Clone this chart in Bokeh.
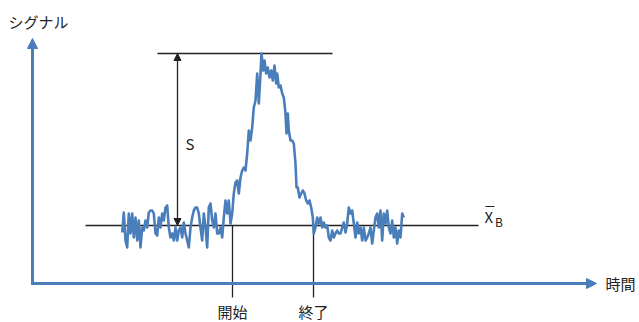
from bokeh.plotting import figure
from bokeh.models import Range1d, Arrow, NormalHead
from bokeh.embed import file_html
from bokeh.resources import INLINE
from bokeh.core.properties import value

# ---- data (time, signal) ----
time = [89.7, 91.3, 93.0, 94.7, 96.3, 98.0, 99.7, 101.3, 103.0, 104.7, 106.3, 108.0, 109.7, 111.3,
        113.0, 114.7, 116.3, 118.0, 119.7, 121.3, 123.0, 124.7, 126.3, 128.0, 129.7, 131.3, 133.0,
        134.7, 136.3, 138.0, 139.7, 141.3, 143.0, 144.7, 146.3, 148.0, 149.7, 151.3, 153.0, 154.7,
        156.3, 158.0, 159.7, 161.3, 163.0, 164.7, 166.3, 168.0, 169.7, 171.3, 173.0, 174.7, 176.3,
        178.0, 179.7, 181.3, 183.0, 184.7, 186.3, 188.0, 189.7, 191.3, 193.0, 194.7, 196.3, 198.0,
        199.7, 201.3, 203.0, 204.7, 206.3, 208.0, 209.7, 211.3, 213.0, 214.7, 216.3, 218.0, 219.7,
        221.3, 223.0, 224.7, 226.3, 228.0, 229.0, 230.7, 232.0, 233.7, 235.3, 237.0, 238.7, 240.3,
        242.0, 243.7, 244.7, 246.3, 248.0, 249.7, 251.3, 253.0, 254.0, 255.3, 256.3, 258.0, 259.7,
        261.3, 263.0, 264.0, 265.3, 267.0, 268.7, 270.3, 272.0, 273.7, 275.3, 277.0, 278.7, 280.3,
        281.3, 283.0, 284.7, 286.3, 288.0, 289.7, 291.3, 293.0, 294.7, 296.3, 298.0, 299.7, 301.3,
        303.0, 304.7, 306.3, 308.0, 309.7, 311.3, 313.0, 314.7, 316.3, 318.0, 319.7, 321.3, 323.0,
        324.7, 326.3, 328.0, 329.7, 331.3, 333.0, 334.7, 336.3, 338.0, 339.7, 341.3, 343.0, 344.7,
        346.3, 348.0, 349.7, 351.3, 353.0, 354.7, 356.3, 358.0, 359.7, 361.3, 363.0, 364.7, 366.3,
        368.0, 369.7, 371.3]
signal = [51, 71, 43, 36, 70, 50, 70, 46, 66, 43, 63, 36, 56, 53,
          63, 56, 71, 73, 73, 70, 50, 48, 66, 56, 70, 63, 76,
          78, 56, 46, 50, 43, 56, 43, 53, 56, 46, 61, 50, 43,
          36, 56, 66, 73, 76, 76, 70, 56, 43, 70, 56, 36, 76,
          80, 63, 56, 70, 50, 50, 56, 46, 66, 83, 70, 83, 60,
          70, 90, 101, 103, 90, 106, 113, 116, 113, 130, 153, 143, 156,
          176, 183, 210, 180, 210, 230, 213, 223, 210, 216, 206, 213, 203,
          218, 200, 210, 196, 198, 190, 186, 170, 150, 170, 153, 143, 143,
          140, 120, 96, 96, 86, 90, 93, 90, 83, 80, 83, 76, 66,
          50, 56, 66, 60, 66, 56, 61, 56, 58, 46, 43, 53, 46,
          50, 53, 50, 50, 56, 61, 51, 60, 76, 70, 73, 60, 46,
          61, 50, 56, 43, 56, 43, 46, 50, 56, 40, 53, 66, 70,
          56, 73, 43, 70, 60, 73, 56, 50, 63, 46, 56, 40, 53,
          46, 70, 66]

baseline_level = 58      # X̄_B
peak_level = 230         # peak height
start_time = 200         # 開始
end_time = 281           # 終了
axis_time_max = 564
axis_signal_max = 245

BLUE = "#4a7ebb"
DARK = "#222222"
FONT = value("Noto Sans CJK JP")

p = figure(width=639, height=322, x_range=Range1d(-32, 607), y_range=Range1d(-39, 283),
           x_axis_type=None, y_axis_type=None, toolbar_location=None,
           output_backend="svg", min_border=0)
p.outline_line_color = None
p.grid.visible = False
p.background_fill_color = "white"
p.border_fill_color = "white"

# axes with arrows
p.add_layout(Arrow(end=NormalHead(size=10, fill_color=BLUE, line_color=BLUE),
                   x_start=0, y_start=-1.5, x_end=0, y_end=axis_signal_max,
                   line_color=BLUE, line_width=3))
p.add_layout(Arrow(end=NormalHead(size=10, fill_color=BLUE, line_color=BLUE),
                   x_start=-1.5, y_start=0, x_end=axis_time_max, y_end=0,
                   line_color=BLUE, line_width=3))

# reference lines
p.line([53, 446], [baseline_level, baseline_level], line_color=DARK, line_width=1.3)
p.line([125, 300], [peak_level, peak_level], line_color=DARK, line_width=1.3)
p.line([start_time, start_time], [baseline_level, -14], line_color=DARK, line_width=1.3)
p.line([end_time, end_time], [baseline_level, -14], line_color=DARK, line_width=1.3)

# S double arrow
p.add_layout(Arrow(start=NormalHead(size=7, fill_color=DARK, line_color=DARK),
                   end=NormalHead(size=7, fill_color=DARK, line_color=DARK),
                   x_start=145, y_start=baseline_level, x_end=145, y_end=peak_level,
                   line_color=DARK, line_width=1.3))

# signal
p.line(time, signal, line_color=BLUE, line_width=2.6, line_join="round")

# texts
p.text(x=[-24], y=[262], text=["シグナル"], text_font=FONT, text_font_size="15px",
       text_color=DARK, text_baseline="middle", text_align="left")
p.text(x=[573], y=[0], text=["時間"], text_font=FONT, text_font_size="15px",
       text_color=DARK, text_baseline="middle", text_align="left")
p.text(x=[153], y=[140], text=["S"], text_font=FONT, text_font_size="15px",
       text_color=DARK, text_baseline="middle", text_align="left")
p.text(x=[start_time, end_time], y=[-17, -17], text=["開始", "終了"], text_font=FONT,
       text_font_size="15px", text_color=DARK, text_baseline="top", text_align="center")
p.text(x=[452], y=[67], text=["X"], text_font=FONT, text_font_size="15px",
       text_color=DARK, text_baseline="middle", text_align="left")
p.text(x=[462.5], y=[62], text=["B"], text_font=FONT, text_font_size="12px",
       text_color=DARK, text_baseline="middle", text_align="left")
p.line([453, 462], [77, 77], line_color=DARK, line_width=1.2)

open("out.html", "w").write(file_html(p, INLINE))
